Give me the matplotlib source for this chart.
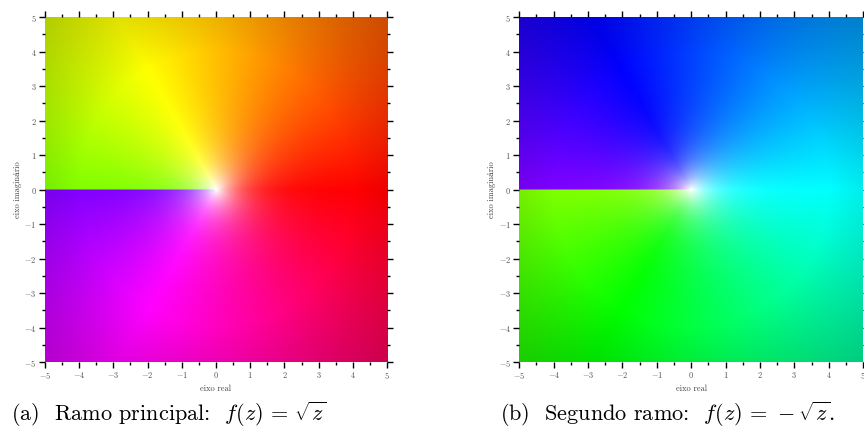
import numpy as np
import matplotlib
matplotlib.use("Agg")
import matplotlib.pyplot as plt
from matplotlib.colors import hsv_to_rgb

plt.rcParams['mathtext.fontset'] = 'cm'
plt.rcParams['font.family'] = ['cmr10', 'DejaVu Serif']
plt.rcParams['axes.unicode_minus'] = False

# domain and ticks
x_range = [-5, 5]
y_range = [-5, 5]
major_ticks = [-5, -4, -3, -2, -1, 0, 1, 2, 3, 4, 5]
minor_ticks = [-4.5, -3.5, -2.5, -1.5, -0.5, 0.5, 1.5, 2.5, 3.5, 4.5]

# the two branches of sqrt: sign in front of sqrt(z)
branch_signs = [1, -1]
captions = [r'(a)  Ramo principal:  $f(z)\,=\,\sqrt{z}$',
            r'(b)  Segundo ramo:  $f(z)\,=\,-\sqrt{z}.$']
xlabel = 'eixo real'
ylabel = 'eixo imaginário'


def domain_colors(w):
  # hue from the argument, lightness from the modulus (white near 0)
  hue = np.mod(np.angle(w) / (2 * np.pi), 1.0)
  r = np.abs(w)
  light = 0.5 + 0.5 * np.exp(-(r / 0.85) ** 2) - 0.15 * np.clip(r - 2.0, 0, None)
  light = np.clip(light, 0, 1)
  val = light + np.minimum(light, 1 - light)
  sat = np.where(val > 0, 2 * (1 - light / np.maximum(val, 1e-9)), 0)
  hsv = np.dstack([hue, np.clip(sat, 0, 1), np.clip(val, 0, 1)])
  return hsv_to_rgb(hsv)


n = 600
xs = np.linspace(x_range[0], x_range[1], n)
ys = np.linspace(y_range[0], y_range[1], n)
X, Y = np.meshgrid(xs, ys)
Z = X + 1j * Y
# put the branch cut just on the upper side of the negative real axis, like the original
Z = np.where((Y == 0) & (X < 0), Z + 1e-12j, Z)

fig = plt.figure(figsize=(8.64, 4.4), dpi=100)
positions = [[0.052, 0.177, 0.396, 0.784], [0.601, 0.177, 0.398, 0.784]]
caption_x = [0.195, 0.772]

for pos, sign, cap, cx in zip(positions, branch_signs, captions, caption_x):
  ax = fig.add_axes(pos)
  W = sign * np.sqrt(Z)
  ax.imshow(domain_colors(W), origin='lower', extent=x_range + y_range,
            aspect='auto', interpolation='bilinear')
  ax.set_xlim(x_range)
  ax.set_ylim(y_range)
  ax.set_xticks(major_ticks)
  ax.set_yticks(major_ticks)
  ax.set_xticks(minor_ticks, minor=True)
  ax.set_yticks(minor_ticks, minor=True)
  ax.set_xticklabels(['$%d$' % v for v in major_ticks])
  ax.set_yticklabels(['$%d$' % v for v in major_ticks])
  ax.tick_params(which='both', direction='out', top=True, right=True,
                 width=1.0, color='black', labelsize=6, labelcolor='#555555', pad=2)
  ax.tick_params(which='major', length=4)
  ax.tick_params(which='minor', length=2)
  for s in ax.spines.values():
    s.set_visible(False)
  ax.set_xlabel(xlabel, fontsize=6, color='#444444', labelpad=2)
  ax.set_ylabel(ylabel, fontsize=6, color='#444444', labelpad=2)
  fig.text(cx, 0.025, cap, fontsize=16, ha='center', va='bottom')

fig.savefig('out.png', dpi=100)
